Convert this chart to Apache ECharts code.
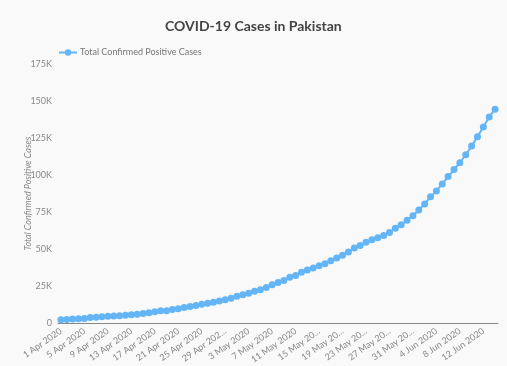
<!DOCTYPE html>
<html>
<head>
<meta charset="utf-8">
<script src="https://cdn.jsdelivr.net/npm/echarts@6/dist/echarts.min.js"></script>
<style>
html,body{margin:0;padding:0;background:#f9f9f9;}
#chart{width:507px;height:366px;}
</style>
</head>
<body>
<div id="chart"></div>
<script>
const titleText = 'COVID-19 Cases in Pakistan';
const seriesName = 'Total Confirmed Positive Cases';
const categories = [
  '1 Apr 2020','2 Apr 2020','3 Apr 2020','4 Apr 2020','5 Apr 2020','6 Apr 2020','7 Apr 2020','8 Apr 2020','9 Apr 2020','10 Apr 2020',
  '11 Apr 2020','12 Apr 2020','13 Apr 2020','14 Apr 2020','15 Apr 2020','16 Apr 2020','17 Apr 2020','18 Apr 2020','19 Apr 2020','20 Apr 2020',
  '21 Apr 2020','22 Apr 2020','23 Apr 2020','24 Apr 2020','25 Apr 2020','26 Apr 2020','27 Apr 2020','28 Apr 2020','29 Apr 2020','30 Apr 2020',
  '1 May 2020','2 May 2020','3 May 2020','4 May 2020','5 May 2020','6 May 2020','7 May 2020','8 May 2020','9 May 2020','10 May 2020',
  '11 May 2020','12 May 2020','13 May 2020','14 May 2020','15 May 2020','16 May 2020','17 May 2020','18 May 2020','19 May 2020','20 May 2020',
  '21 May 2020','22 May 2020','23 May 2020','24 May 2020','25 May 2020','26 May 2020','27 May 2020','28 May 2020','29 May 2020','30 May 2020',
  '31 May 2020','1 Jun 2020','2 Jun 2020','3 Jun 2020','4 Jun 2020','5 Jun 2020','6 Jun 2020','7 Jun 2020','8 Jun 2020','9 Jun 2020',
  '10 Jun 2020','11 Jun 2020','12 Jun 2020','13 Jun 2020','14 Jun 2020'
];
const cases = [
  2291,2450,2708,2880,3157,3766,4035,4322,4601,4788,
  5038,5374,5716,5988,6505,7025,7638,8348,8418,9216,
  9749,10513,11155,11940,12657,13328,14079,14915,15759,
  16817,18114,19103,20084,21501,22550,24073,25837,27474,28736,
  30941,32081,34336,35788,37218,38799,40151,42125,43966,45898,
  48091,50694,52437,54601,56349,57705,59151,61227,64028,66457,69496,
  72460,76398,80463,85264,89249,93983,98943,103671,108317,113702,
  119536,125933,132405,139230,144478
];
// tick labels as shown (every 4th day, some truncated)
const tickLabels = {
  '1 Apr 2020':'1 Apr 2020','5 Apr 2020':'5 Apr 2020','9 Apr 2020':'9 Apr 2020','13 Apr 2020':'13 Apr 2020',
  '17 Apr 2020':'17 Apr 2020','21 Apr 2020':'21 Apr 2020','25 Apr 2020':'25 Apr 2020','29 Apr 2020':'29 Apr 202...',
  '3 May 2020':'3 May 2020','7 May 2020':'7 May 2020','11 May 2020':'11 May 2020','15 May 2020':'15 May 20...',
  '19 May 2020':'19 May 20...','23 May 2020':'23 May 20...','27 May 2020':'27 May 20...','31 May 2020':'31 May 20...',
  '4 Jun 2020':'4 Jun 2020','8 Jun 2020':'8 Jun 2020','12 Jun 2020':'12 Jun 2020'
};
const yMax = 175000;
const yStep = 25000;

const font = 'Lato, "Noto Sans", sans-serif';
const blue = '#64b5f6';
const chart = echarts.init(document.getElementById('chart'), null, {renderer:'canvas'});
chart.setOption({
  backgroundColor: '#f9f9f9',
  animation: false,
  title: {
    text: titleText, left: 160, top: 14,
    textStyle: {fontFamily: font, fontSize: 14, fontWeight: 'bold', color: '#444'}
  },
  legend: {
    data: [seriesName], left: 53, top: 43, itemWidth: 18, itemHeight: 8, itemGap: 6,
    textStyle: {fontFamily: font, fontSize: 9, color: '#777', padding: [0,0,0,-2]}
  },
  grid: {left: 58, right: 9, top: 64, bottom: 38, containLabel: false},
  xAxis: {
    type: 'category', data: categories, boundaryGap: true,
    axisLine: {lineStyle: {color: '#888', width: 1}},
    axisTick: {show: false},
    axisLabel: {
      interval: 3, rotate: 35, fontFamily: font, fontSize: 9, color: '#888', margin: 7,
      formatter: v => tickLabels[v] || ''
    },
    splitLine: {show: false}
  },
  yAxis: {
    type: 'value', min: 0, max: yMax, interval: yStep,
    name: seriesName, nameLocation: 'middle', nameGap: 25, nameMoveOverlap: false,
    nameTextStyle: {fontFamily: font, fontSize: 9, color: '#888', fontStyle: 'italic'},
    axisLine: {show: false}, axisTick: {show: false},
    splitLine: {show: false},
    axisLabel: {fontFamily: font, fontSize: 9, color: '#888', margin: 6,
      formatter: v => v === 0 ? '0' : (v/1000) + 'K'}
  },
  series: [{
    name: seriesName, type: 'line', data: cases,
    symbol: 'circle', symbolSize: 7, showSymbol: true, showAllSymbol: true,
    lineStyle: {color: blue, width: 2},
    itemStyle: {color: blue}
  }]
});
</script>
</body>
</html>
